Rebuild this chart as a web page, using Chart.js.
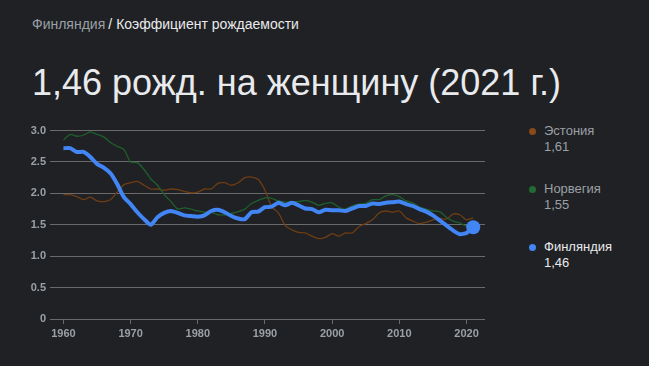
<!DOCTYPE html>
<html>
<head>
<meta charset="utf-8">
<script src="https://cdn.jsdelivr.net/npm/chart.js@4"></script>
<style>
  body { margin: 0; background: #202124; width: 649px; height: 366px; overflow: hidden; font-family: Arial, "Liberation Sans", sans-serif; }
  .crumb { position: absolute; left: 32px; top: 16px; font-size: 14px; color: #e8eaed; white-space: nowrap; }
  .crumb .country { color: #9aa0a6; }
  .crumb .sep { margin: 0 4px 0 3px; }
  .title { position: absolute; left: 32px; top: 62px; font-size: 36px; color: #e8eaed; white-space: nowrap; }
  .legend { position: absolute; left: 529px; font-size: 13px; line-height: 16px; color: #9aa0a6; }
  .legend .dot { position: absolute; left: 0; top: 5px; width: 7px; height: 7px; border-radius: 50%; }
  .legend .txt { margin-left: 15px; }
  .legend.active { color: #e8eaed; }
  #wrap { position: absolute; left: 0; top: 120px; width: 500px; height: 230px; }
</style>
</head>
<body>
<div class="crumb"><span class="country">Финляндия</span><span class="sep">/</span>Коэффициент рождаемости</div>
<div class="title">1,46 рожд. на женщину (2021 г.)</div>
<div id="legend"></div>
<div id="wrap"><canvas id="chart" width="500" height="230"></canvas></div>
<script>
    const years = [];
    for (let y = 1960; y <= 2021; y++) years.push(y);

    const finland = [2.72, 2.72, 2.66, 2.66, 2.58, 2.47, 2.41, 2.32, 2.15, 1.94,
      1.83, 1.70, 1.59, 1.50, 1.62, 1.69, 1.72, 1.69, 1.65, 1.64,
      1.63, 1.65, 1.72, 1.74, 1.70, 1.64, 1.60, 1.59, 1.70, 1.71,
      1.78, 1.79, 1.85, 1.81, 1.85, 1.81, 1.76, 1.75, 1.70, 1.74,
      1.73, 1.73, 1.72, 1.76, 1.80, 1.80, 1.84, 1.83, 1.85, 1.86,
      1.87, 1.83, 1.80, 1.75, 1.71, 1.65, 1.57, 1.49, 1.41, 1.35,
      1.37, 1.46];

    const estonia = [1.98, 1.98, 1.95, 1.90, 1.94, 1.88, 1.87, 1.90, 2.02, 2.14,
      2.17, 2.19, 2.13, 2.07, 2.07, 2.05, 2.07, 2.06, 2.03, 2.01,
      2.02, 2.07, 2.07, 2.16, 2.17, 2.13, 2.17, 2.25, 2.26, 2.22,
      2.05, 1.79, 1.69, 1.49, 1.42, 1.38, 1.37, 1.32, 1.28, 1.30,
      1.36, 1.32, 1.37, 1.37, 1.47, 1.52, 1.58, 1.69, 1.72, 1.70,
      1.72, 1.61, 1.56, 1.52, 1.54, 1.58, 1.60, 1.59, 1.67, 1.66,
      1.58, 1.61];

    const norway = [2.85, 2.94, 2.91, 2.93, 2.98, 2.94, 2.90, 2.81, 2.75, 2.70,
      2.50, 2.49, 2.38, 2.23, 2.13, 1.98, 1.87, 1.75, 1.77, 1.75,
      1.72, 1.70, 1.70, 1.66, 1.66, 1.68, 1.71, 1.75, 1.84, 1.89,
      1.93, 1.92, 1.88, 1.86, 1.87, 1.87, 1.89, 1.86, 1.81, 1.84,
      1.85, 1.78, 1.75, 1.80, 1.83, 1.84, 1.90, 1.90, 1.96, 1.98,
      1.95, 1.88, 1.85, 1.78, 1.75, 1.72, 1.71, 1.62, 1.56, 1.53,
      1.48, 1.55];

    const xTicks = [1960, 1970, 1980, 1990, 2000, 2010, 2020];
    const yTicks = [0, 0.5, 1, 1.5, 2, 2.5, 3];

    const legendItems = [
      { name: 'Эстония', value: '1,61', color: '#8b4a17', top: 123 },
      { name: 'Норвегия', value: '1,55', color: '#1f6b32', top: 181 },
      { name: 'Финляндия', value: '1,46', color: '#4285f4', top: 239, active: true },
    ];

    const legendDiv = document.getElementById('legend');
    legendItems.forEach(item => {
      const el = document.createElement('div');
      el.className = 'legend' + (item.active ? ' active' : '');
      el.style.top = item.top + 'px';
      el.innerHTML = '<span class="dot" style="background:' + item.color + '"></span>' +
        '<div class="txt">' + item.name + '</div><div class="txt">' + item.value + '</div>';
      legendDiv.appendChild(el);
    });

    const toPoints = arr => years.map((y, i) => ({ x: y, y: arr[i] }));
    const last = years.length - 1;

    const ctx = document.getElementById('chart').getContext('2d');
    const chart = new Chart(ctx, {
      type: 'line',
      data: {
        datasets: [
          {
            label: 'Финляндия',
            data: toPoints(finland),
            borderColor: '#4285f4',
            backgroundColor: '#4285f4',
            borderWidth: 4,
            tension: 0.2,
            pointRadius: c => c.dataIndex === last ? 7 : 0,
            pointBorderWidth: 0,
          },
          {
            label: 'Норвегия',
            data: toPoints(norway),
            borderColor: '#1f5f2c',
            borderWidth: 1.3,
            tension: 0.2,
            pointRadius: 0,
          },
          {
            label: 'Эстония',
            data: toPoints(estonia),
            borderColor: '#6e3d14',
            borderWidth: 1.3,
            tension: 0.3,
            pointRadius: 0,
          },
        ],
      },
      options: {
        responsive: false,
        animation: false,
        layout: { padding: { top: 10, right: 15 } },
        plugins: {
          legend: { display: false },
          tooltip: { enabled: false },
        },
        scales: {
          x: {
            type: 'linear',
            min: 1958,
            max: 2022.75,
            afterBuildTicks: s => { s.ticks = xTicks.map(v => ({ value: v })); },
            afterFit: s => { s.height = 31; },
            grid: { drawOnChartArea: false, drawTicks: true, tickLength: 5, color: '#6a6a6a' },
            border: { display: false },
            ticks: {
              color: '#9aa0a6',
              padding: 3,
              maxRotation: 0,
              font: { family: 'Arial', size: 11, weight: 'bold' },
              callback: v => String(v),
            },
          },
          y: {
            min: 0,
            max: 3,
            afterBuildTicks: s => { s.ticks = yTicks.map(v => ({ value: v })); },
            afterFit: s => { s.width = 50; },
            grid: { drawTicks: false, color: '#6a6a6a', lineWidth: 1 },
            border: { display: false },
            ticks: {
              color: '#9aa0a6',
              padding: 4,
              font: { family: 'Arial', size: 11, weight: 'bold' },
              callback: v => v === 0 ? '0' : v.toFixed(1),
            },
          },
        },
      },
    });
</script>
</body>
</html>
